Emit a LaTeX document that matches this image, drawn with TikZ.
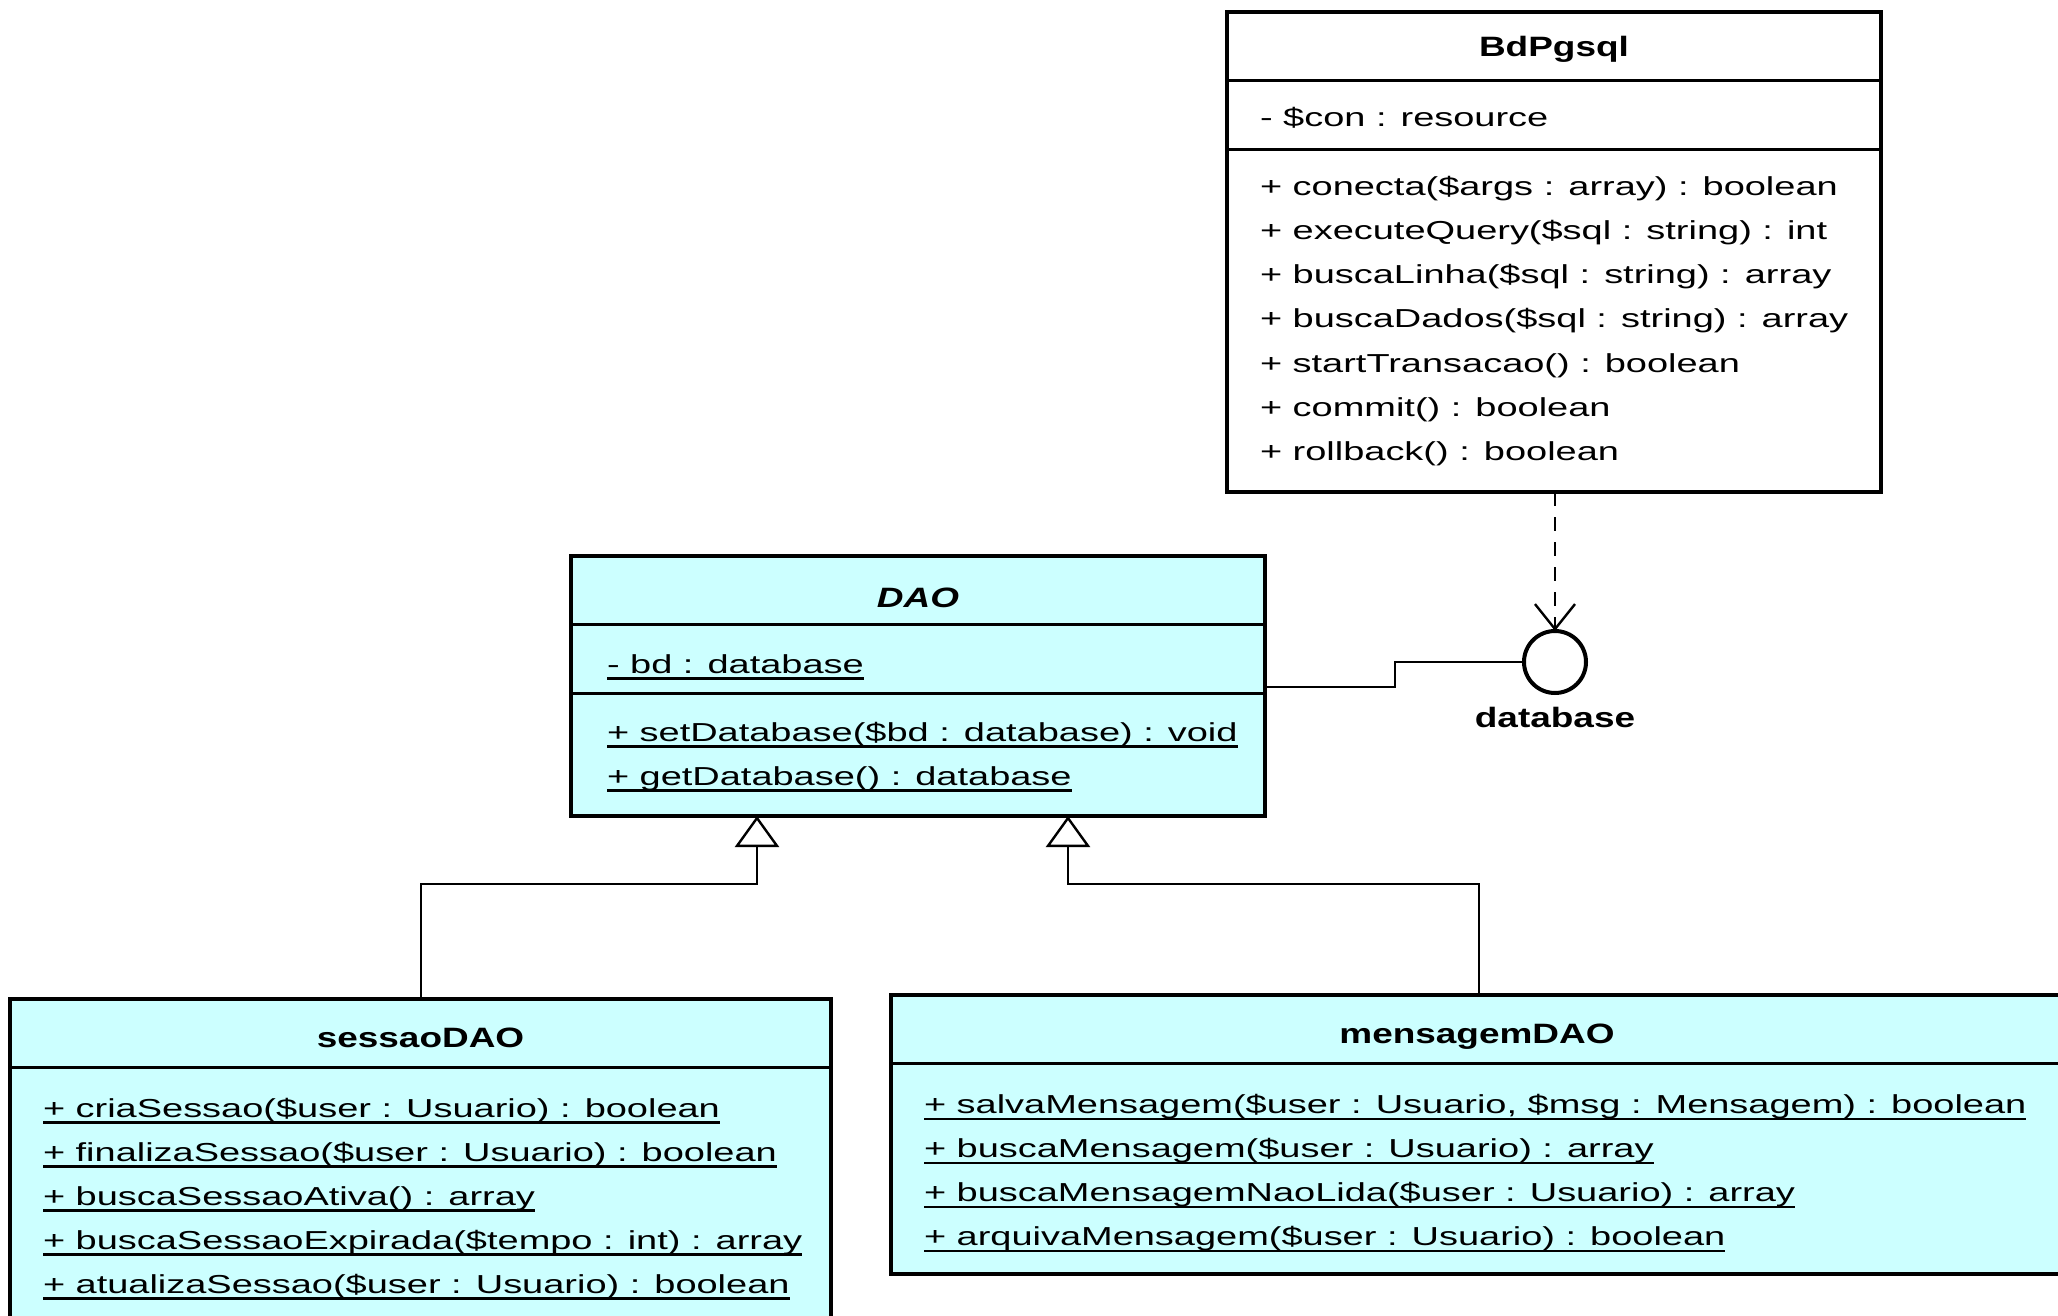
\documentclass[tikz,border=0pt]{standalone}
\usepackage{fontspec}
\setmainfont{Liberation Sans}
\newfontfamily\itemfont{Liberation Sans}[FakeStretch=1.46]
\newfontfamily\titlefont{Liberation Sans}[FakeStretch=1.32]
\usetikzlibrary{arrows.meta}
\definecolor{umlcyan}{RGB}{204,255,255}
\newcommand\ulx[1]{\setbox0\hbox{#1}\rlap{\lower2.1pt\hbox{\vrule width\wd0 height0pt depth1.3pt}}\box0}
\tikzset{
  classbox/.style={draw, line width=2.4pt, rectangle, inner sep=0pt, outer sep=0pt, fill=umlcyan},
  sepline/.style={line width=1.5pt},
  member/.style={anchor=base west, inner sep=0pt, outer sep=0pt, font=\itemfont\fontsize{13pt}{15pt}\selectfont},
  ctitle/.style={anchor=base, inner sep=0pt, outer sep=0pt, font=\titlefont\fontsize{14pt}{16pt}\selectfont\bfseries},
  conn/.style={line width=1.3pt},
  gen/.style={conn, -{Triangle[open, length=15.5pt, width=22pt, line width=1.2pt]}},
  dep/.style={conn, dash pattern=on 7pt off 5.5pt, -{Straight Barb[length=12.5pt, width=20pt, line width=1.2pt]}},
}
\begin{document}
\begin{tikzpicture}[x=0.5pt, y=-0.5pt]
\useasboundingbox (0,0) rectangle (2058,1316);
\clip (0,0) rectangle (2058,1316);
\fill[white] (0,0) rectangle (2058,1316);

% ---------- BdPgsql ----------
\node[classbox, fill=white, minimum width=327pt, minimum height=240pt] (bd) at (1554,252) {};
\draw[sepline] ([yshift=-34.5pt]bd.north west) -- ([yshift=-34.5pt]bd.north east);
\draw[sepline] ([yshift=-69pt]bd.north west) -- ([yshift=-69pt]bd.north east);
\node[ctitle] (bdT) at (1554,57) {BdPgsql};
\node[member] (bdA) at (1260,127) {- \$con : resource};
\node[member] (bdO1) at (1260,196) {+ conecta(\$args : array) : boolean};
\node[member] (bdO2) at (1260,240) {+ executeQuery(\$sql : string) : int};
\node[member] (bdO3) at (1260,284) {+ buscaLinha(\$sql : string) : array};
\node[member] (bdO4) at (1260,328) {+ buscaDados(\$sql : string) : array};
\node[member] (bdO5) at (1260,372) {+ startTransacao() : boolean};
\node[member] (bdO6) at (1260,416) {+ commit() : boolean};
\node[member] (bdO7) at (1260,460) {+ rollback() : boolean};

% ---------- DAO ----------
\node[classbox, minimum width=347pt, minimum height=130pt] (dao) at (918,686) {};
\draw[sepline] ([yshift=-34pt]dao.north west) -- ([yshift=-34pt]dao.north east);
\draw[sepline] ([yshift=-68.5pt]dao.north west) -- ([yshift=-68.5pt]dao.north east);
\node[ctitle] (daoT) at (918,607) {\itshape DAO};
\node[member] (daoA) at (607,673) {\ulx{- bd : database}};
\node[member] (daoO1) at (607,741) {\ulx{+ setDatabase(\$bd : database) : void}};
\node[member] (daoO2) at (607,785) {\ulx{+ getDatabase() : database}};

% ---------- sessaoDAO ----------
\node[classbox, minimum width=410.5pt, minimum height=170.5pt] (sessao) at (420.5,1169.5) {};
\draw[sepline] ([yshift=-34pt]sessao.north west) -- ([yshift=-34pt]sessao.north east);
\node[ctitle] (sessaoT) at (420.5,1047) {sessaoDAO};
\node[member] (sO1) at (43,1117) {\ulx{+ criaSessao(\$user : Usuario) : boolean}};
\node[member] (sO2) at (43,1161) {\ulx{+ finalizaSessao(\$user : Usuario) : boolean}};
\node[member] (sO3) at (43,1205) {\ulx{+ buscaSessaoAtiva() : array}};
\node[member] (sO4) at (43,1249) {\ulx{+ buscaSessaoExpirada(\$tempo : int) : array}};
\node[member] (sO5) at (43,1293) {\ulx{+ atualizaSessao(\$user : Usuario) : boolean}};

% ---------- mensagemDAO ----------
\node[classbox, minimum width=586pt, minimum height=139.5pt] (msg) at (1477,1134.5) {};
\draw[sepline] ([yshift=-34pt]msg.north west) -- ([yshift=-34pt]msg.north east);
\node[ctitle] (msgT) at (1477,1043) {mensagemDAO};
\node[member] (mO1) at (924,1113.5) {\ulx{+ salvaMensagem(\$user : Usuario, \$msg : Mensagem) : boolean}};
\node[member] (mO2) at (924,1157.5) {\ulx{+ buscaMensagem(\$user : Usuario) : array}};
\node[member] (mO3) at (924,1201.5) {\ulx{+ buscaMensagemNaoLida(\$user : Usuario) : array}};
\node[member] (mO4) at (924,1245.5) {\ulx{+ arquivaMensagem(\$user : Usuario) : boolean}};

% ---------- interface ----------
\node[circle, draw, line width=2pt, minimum size=31pt, inner sep=0pt, outer sep=0pt, fill=white] (iface) at (1555,662) {};
\node[ctitle] (ifaceL) at (1555,727) {database};

% ---------- connectors ----------
\coordinate (k1) at (1395,687);
\draw[conn] (k1 -| dao.east) -- (k1) |- (iface.west);
\draw[dep] (iface.north |- bd.south) -- (iface.north);

\coordinate (j1) at (421,884);
\coordinate (j2) at (1479,884);
\coordinate (t1) at (757,884);
\coordinate (t2) at (1068,884);
\draw[gen] (j1 |- sessao.north) -- (j1) -- (t1) -- (t1 |- dao.south);
\draw[gen] (j2 |- msg.north) -- (j2) -- (t2) -- (t2 |- dao.south);
\end{tikzpicture}
\end{document}
